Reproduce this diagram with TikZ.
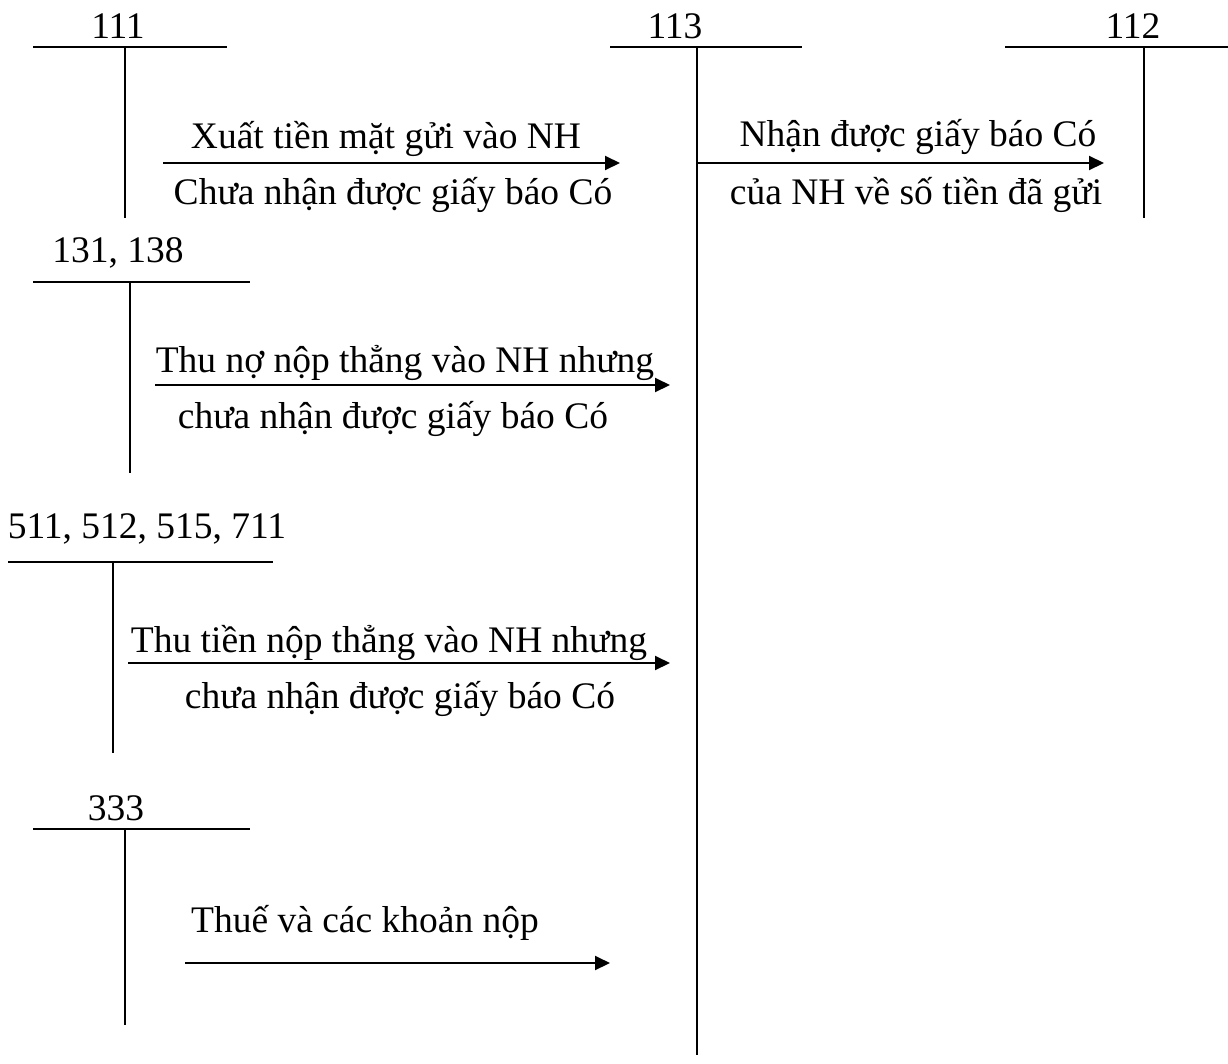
\documentclass[tikz,border=0pt]{standalone}
\usepackage{fontspec}
\setmainfont{Liberation Serif}
\usetikzlibrary{arrows.meta}

\tikzset{
    acct/.style={line width=2pt},
    flow/.style={line width=2pt, -{Triangle[length=15pt, width=14pt]}},
    txt/.style={anchor=base, inner sep=0pt, font=\fontsize{37.5}{45}\selectfont}
}

\begin{document}
\begin{tikzpicture}[x=1pt, y=-1pt]
        \useasboundingbox (0, 0) rectangle (1228, 1063);
        % tai khoan 111
        \node[txt] (n111) at (118, 38) {111};
        \draw[acct] (33, 47) -- (227, 47);
        \draw[acct] (125, 47) -- (125, 218);
        % tai khoan 113
        \node[txt] (n113) at (675, 38) {113};
        \draw[acct] (610, 47) -- (802, 47);
        \draw[acct] (697, 47) -- (697, 1055);
        % tai khoan 112
        \node[txt] (n112) at (1133, 38) {112};
        \draw[acct] (1005, 47) -- (1228, 47);
        \draw[acct] (1144, 47) -- (1144, 218);
        % tai khoan 131, 138
        \node[txt] (n131) at (118, 262) {131, 138};
        \draw[acct] (33, 282) -- (250, 282);
        \draw[acct] (130, 282) -- (130, 473);
        % tai khoan 511, 512, 515, 711
        \node[txt] (n511) at (147, 538) {511, 512, 515, 711};
        \draw[acct] (8, 562) -- (273, 562);
        \draw[acct] (113, 562) -- (113, 753);
        % tai khoan 333
        \node[txt] (n333) at (116, 820) {333};
        \draw[acct] (33, 829) -- (250, 829);
        \draw[acct] (125, 829) -- (125, 1025);

        % 111 -> 113
        \coordinate (a1s) at (163, 163);
        \coordinate (a1e) at (620, 163);
        \draw[flow] (a1s) -- (a1e);
        \node[txt] (t1a) at (386, 148) {Xuất tiền mặt gửi vào NH};
        \node[txt] (t1b) at (393, 204) {Chưa nhận được giấy báo Có};
        % 113 -> 112
        \coordinate (a2s) at (697, 163);
        \coordinate (a2e) at (1104, 163);
        \draw[flow] (a2s) -- (a2e);
        \node[txt] (t2a) at (918, 146) {Nhận được giấy báo Có};
        \node[txt] (t2b) at (916, 204) {của NH về số tiền đã gửi};
        % 131, 138 -> 113
        \coordinate (a3s) at (155, 385);
        \coordinate (a3e) at (670, 385);
        \draw[flow] (a3s) -- (a3e);
        \node[txt] (t3a) at (405, 372) {Thu nợ nộp thẳng vào NH nhưng};
        \node[txt] (t3b) at (393, 428) {chưa nhận được giấy báo Có};
        % 511... -> 113
        \coordinate (a4s) at (128, 663);
        \coordinate (a4e) at (670, 663);
        \draw[flow] (a4s) -- (a4e);
        \node[txt] (t4a) at (389, 652) {Thu tiền nộp thẳng vào NH nhưng};
        \node[txt] (t4b) at (400, 708) {chưa nhận được giấy báo Có};
        % 333
        \coordinate (a5s) at (185, 963);
        \coordinate (a5e) at (610, 963);
        \draw[flow] (a5s) -- (a5e);
        \node[txt] (t5) at (365, 932) {Thuế và các khoản nộp};
    \end{tikzpicture}
\end{document}
